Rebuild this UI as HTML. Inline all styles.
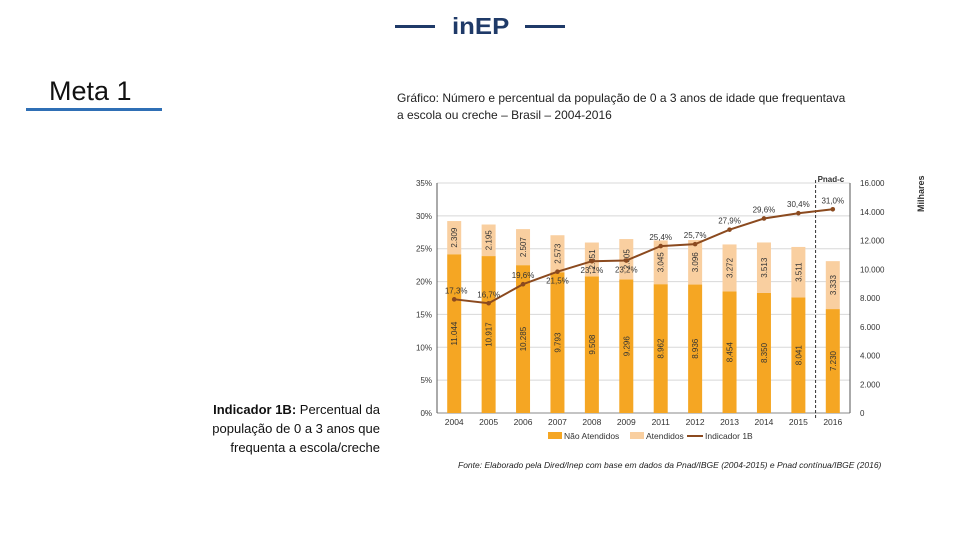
<!DOCTYPE html>
<html><head><meta charset="utf-8"><style>
html,body{margin:0;padding:0;width:960px;height:540px;background:#fff;overflow:hidden;font-family:"Liberation Sans",sans-serif}
.abs{position:absolute}
</style></head><body>
<div class="abs" style="left:395px;top:25px;width:40px;height:3px;background:#1f3a68"></div>
<div class="abs" style="left:452px;top:13px;font:900 23px 'Liberation Sans',sans-serif;color:#1f3a68;transform:scaleX(1.12);transform-origin:left top">inEP</div>
<div class="abs" style="left:525px;top:25px;width:40px;height:3px;background:#1f3a68"></div>
<div class="abs" style="left:49px;top:76px;font-size:27px;color:#111">Meta 1</div>
<div class="abs" style="left:26px;top:108px;width:136px;height:3px;background:#2f6fb5"></div>
<div class="abs" style="left:397px;top:90px;font-size:12px;line-height:17px;color:#222;width:520px;white-space:nowrap">Gráfico: Número e percentual da população de 0 a 3 anos de idade que frequentava<br>a escola ou creche – Brasil – 2004-2016</div>
<div class="abs" style="left:180px;top:400px;width:200px;text-align:right;font-size:13px;line-height:19px;color:#111"><b>Indicador 1B:</b> Percentual da população de 0 a 3 anos que frequenta a escola/creche</div>
<div class="abs" style="left:458px;top:460px;font-size:8.5px;font-style:italic;color:#222">Fonte: Elaborado pela Dired/Inep com base em dados da Pnad/IBGE (2004-2015) e Pnad contínua/IBGE (2016)</div>
<svg class="abs" style="left:0;top:0" width="960" height="540" id="chart"></svg>
<script>
const categories=["2004","2005","2006","2007","2008","2009","2011","2012","2013","2014","2015","2016"];
const naoAtendidos=[11044,10917,10285,9793,9508,9296,8962,8936,8454,8350,8041,7230];
const atendidos=[2309,2195,2507,2573,2351,2805,3045,3096,3272,3513,3511,3333];
const indicador=[17.3,16.7,19.6,21.5,23.1,23.2,25.4,25.7,27.9,29.6,30.4,31.0];
const indLabels=["17,3%","16,7%","19,6%","21,5%","23,1%","23,2%","25,4%","25,7%","27,9%","29,6%","30,4%","31,0%"];
const barLabels=["11.044","10.917","10.285","9.793","9.508","9.296","8.962","8.936","8.454","8.350","8.041","7.230"];
const atLabels=["2.309","2.195","2.507","2.573","2.351","2.805","3.045","3.096","3.272","3.513","3.511","3.333"];
const pctTicks=[0,5,10,15,20,25,30,35];
const numTicks=[0,2000,4000,6000,8000,10000,12000,14000,16000];
const numTickLabels=["0","2.000","4.000","6.000","8.000","10.000","12.000","14.000","16.000"];

const svg=document.getElementById('chart');const NS='http://www.w3.org/2000/svg';
const x0=437,x1=850,yT=183,yB=413;
const step=(x1-x0)/categories.length;
const xs=i=>x0+step*(i+0.5);
const yP=p=>yB-(p/35)*(yB-yT);
const yN=n=>yB-(n/16000)*(yB-yT);
function mk(t,a,txt){const e=document.createElementNS(NS,t);for(const k in a)e.setAttribute(k,a[k]);if(txt!==undefined)e.textContent=txt;svg.appendChild(e);return e;}
pctTicks.forEach(p=>{
 const g=mk('line',{x1:x0,x2:x1,y1:yP(p),y2:yP(p),stroke:p?'#d8d8d8':'#888','stroke-width':1});
 
 
 const t=mk('text',{x:x0-5,y:yP(p)+3,'font-size':8,'text-anchor':'end',fill:'#333'},p+'%');
 
 
});
numTicks.forEach((n,i)=>{
 const t=mk('text',{x:x1+10,y:yN(n)+3,'font-size':8,fill:'#333'},numTickLabels[i]);
 
 
});
let a=mk('line',{x1:x0,x2:x0,y1:yT,y2:yB,stroke:'#555'});
a=mk('line',{x1:x1,x2:x1,y1:yT,y2:yB,stroke:'#555'});
a=mk('text',{x:0,y:0,'font-size':9,'font-weight':'bold',fill:'#333',transform:'translate(924,212) rotate(-90)'},'Milhares');
const dx=x0+step*11;
a=mk('line',{x1:dx,x2:dx,y1:180,y2:418,stroke:'#333','stroke-dasharray':'3,2'});
a=mk('text',{x:dx+2,y:182,'font-size':8,'font-weight':'bold',fill:'#333'},'Pnad-c');
const bw=14;
categories.forEach((c,i)=>{
 const x=xs(i);
 const b1=mk('rect',{x:x-bw/2,y:yN(naoAtendidos[i]),width:bw,height:yB-yN(naoAtendidos[i]),fill:'#f5a623'});
 
 
 const tot=naoAtendidos[i]+atendidos[i];
 const b2=mk('rect',{x:x-bw/2,y:yN(tot),width:bw,height:yN(naoAtendidos[i])-yN(tot),fill:'#f9cfa0'});
 
 
 const ym=(yB+yN(naoAtendidos[i]))/2;
 const l1=mk('text',{x:0,y:0,'font-size':8,'text-anchor':'middle',fill:'#333',transform:`translate(${x+3},${ym}) rotate(-90)`},barLabels[i]);
 
 
 const ya=(yN(naoAtendidos[i])+yN(tot))/2;
 const l2=mk('text',{x:0,y:0,'font-size':8,'text-anchor':'middle',fill:'#333',transform:`translate(${x+3},${ya}) rotate(-90)`},atLabels[i]);
 
 
 const xl=mk('text',{x:x,y:yB+12,'font-size':8.5,'text-anchor':'middle',fill:'#333'},c);
 
 
});
const pts=indicador.map((v,i)=>xs(i)+','+yP(v)).join(' ');
a=mk('polyline',{points:pts,fill:'none',stroke:'#8b4a1f','stroke-width':2});
indicador.forEach((v,i)=>{
 const m=mk('circle',{cx:xs(i),cy:yP(v),r:2.3,fill:'#8b4a1f'});
 
 
 const below=(i>=3&&i<=5);
 const t=mk('text',{x:xs(i)+(i===0?2:0),y:yP(v)+(below?12:-6),'font-size':8,'text-anchor':'middle',fill:'#333'},indLabels[i]);
 
 
});
a=mk('rect',{x:548,y:432,width:14,height:7,fill:'#f5a623'});
a=mk('text',{x:564,y:439,'font-size':8.5,fill:'#333'},'Não Atendidos');
a=mk('rect',{x:630,y:432,width:14,height:7,fill:'#f9cfa0'});
a=mk('text',{x:646,y:439,'font-size':8.5,fill:'#333'},'Atendidos');
a=mk('line',{x1:687,x2:703,y1:436,y2:436,stroke:'#8b4a1f','stroke-width':2});
a=mk('text',{x:705,y:439,'font-size':8.5,fill:'#333'},'Indicador 1B');
</script>
</body></html>
